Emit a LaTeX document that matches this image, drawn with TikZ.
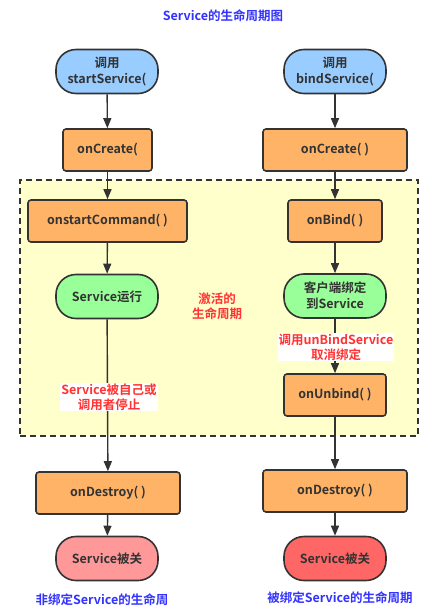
\documentclass[tikz,border=0pt]{standalone}
\usepackage{fontspec}
\setmainfont{Noto Sans CJK SC}[BoldFont={Noto Sans CJK SC Bold}]
\usetikzlibrary{arrows.meta}
\definecolor{txt}{HTML}{333333}
\definecolor{cblue}{HTML}{99CCFF}
\definecolor{corange}{HTML}{FFB366}
\definecolor{cgreen}{HTML}{99FF99}
\definecolor{cpink}{HTML}{FF9999}
\definecolor{cred}{HTML}{FF6666}
\definecolor{cyellow}{HTML}{FFFFCC}
\definecolor{tblue}{HTML}{3333FF}
\definecolor{tred}{HTML}{FF3333}
\tikzset{
  base/.style={draw=txt, line width=1.6pt, text=txt, font=\fontsize{12.5}{16}\selectfont\bfseries, align=center, inner sep=1pt},
  pill/.style={base, rounded corners=20pt, minimum width=102pt, minimum height=44pt},
  boxn/.style={base, rounded corners=3pt, fill=corange, minimum height=42pt},
  conn/.style={draw=txt, line width=1.4pt, -{Triangle[width=8pt,length=10pt]}},
  lab/.style={font=\fontsize{12.5}{15}\selectfont\bfseries, align=center, inner sep=1pt},
}
\begin{document}
\begin{tikzpicture}[x=1pt,y=-1pt]
\useasboundingbox (0,0) rectangle (445,615);
\node[lab, text=tblue] (title) at (223,16) {Service的生命周期图};
% active region
\node[draw=txt, line width=1.2pt, dash pattern=on 6pt off 4pt, fill=cyellow, minimum width=398pt, minimum height=256pt, inner sep=0pt] (region) at (219,308) {};
% left column
\node[pill, fill=cblue] (ls) at (107,71.5) {调用\\startService(};
\node[boxn, minimum width=89pt] (lc) at (107.5,150) {onCreate(};
\node[boxn, minimum width=159pt] (lcmd) at (107.5,221) {onstartCommand( )};
\node[pill, fill=cgreen] (lrun) at (107,296.5) {Service运行};
\node[boxn, minimum width=144pt] (ld) at (108,493) {onDestroy( )};
\node[pill, fill=cpink] (lend) at (107,558.5) {Service被关};
% right column
\node[pill, fill=cblue] (rs) at (335,71.5) {调用\\bindService(};
\node[boxn, minimum width=144pt] (rc) at (335,150) {onCreate( )};
\node[boxn, minimum width=94pt] (rb) at (335,221) {onBind( )};
\node[pill, fill=cgreen] (rcl) at (335,296) {客户端绑定\\到Service};
\node[boxn, minimum width=102pt] (ru) at (335,395) {onUnbind( )};
\node[boxn, minimum width=144pt] (rd) at (335,491) {onDestroy( )};
\node[pill, fill=cred] (rend) at (335,558.5) {Service被关};
% labels
\node[lab, text=tred] (active) at (217,306) {激活的\\生命周期};
% connectors
\draw[conn] (ls) -- (lc);
\draw[conn] (lc) -- (lcmd);
\draw[conn] (lcmd) -- (lrun);
\draw[conn] (lrun) -- (ld);
\draw[conn] (ld) -- (lend);
\draw[conn] (rs) -- (rc);
\draw[conn] (rc) -- (rb);
\draw[conn] (rb) -- (rcl);
\draw[conn] (rcl) -- (ru);
\draw[conn] (ru) -- (rd);
\draw[conn] (rd) -- (rend);
\node[lab, text=tred, fill=white] (lstop) at (109,397) {Service被自己或\\调用者停止};
\node[lab, text=tred, fill=white] (runb) at (336,347) {调用unBindService\\取消绑定};
\node[lab, text=tblue] (lfoot) at (102,600) {非绑定Service的生命周};
\node[lab, text=tblue] (rfoot) at (340,598) {被绑定Service的生命周期};
\end{tikzpicture}
\end{document}
